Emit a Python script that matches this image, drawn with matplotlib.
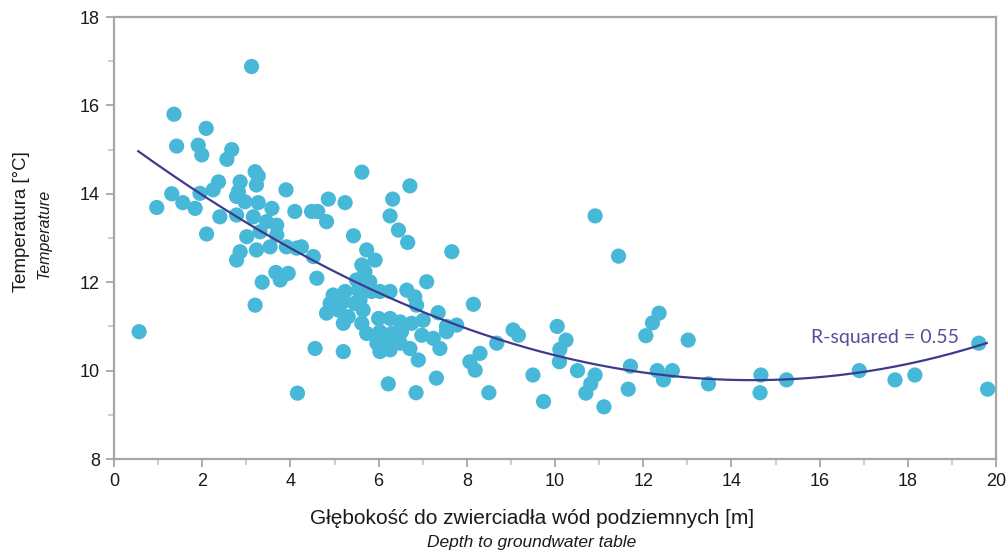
import numpy as np
import matplotlib
matplotlib.use("Agg")
import matplotlib.pyplot as plt
from matplotlib.ticker import MultipleLocator

# Depth to groundwater table [m]
depth = [
    0.57, 0.97, 1.36, 1.42, 1.31, 1.56, 1.84, 1.95, 1.91, 1.99,
    2.09, 2.10, 2.25, 2.37, 2.40, 2.56, 2.67, 2.78, 2.78, 2.86,
    2.82, 2.97, 2.78, 2.86, 3.01, 3.12, 3.20, 3.27, 3.23, 3.27,
    3.16, 3.31, 3.23, 3.20, 3.36, 3.46, 3.58, 3.54, 3.69, 3.69,
    3.67, 3.95, 3.77, 3.91, 3.90, 4.14, 4.10, 4.25, 4.16, 4.48,
    4.62, 4.52, 4.60, 4.56, 4.82, 4.86, 4.82, 4.90, 4.97, 5.09,
    5.20, 5.20, 5.20, 5.24, 5.24, 5.43, 5.46, 5.50, 5.54, 5.62,
    5.62, 5.62, 5.65, 5.69, 5.73, 5.73, 5.80, 5.92, 5.96, 6.00,
    6.03, 6.03, 6.03, 6.22, 6.22, 6.26, 6.26, 6.26, 6.26, 6.30,
    6.32, 6.45, 6.49, 6.49, 6.52, 6.64, 6.66, 6.71, 6.71, 6.75,
    6.82, 6.86, 6.90, 6.85, 6.98, 7.01, 7.09, 7.24, 7.31, 7.35,
    7.39, 7.54, 7.54, 7.66, 7.77, 8.07, 8.19, 8.15, 8.30, 8.50,
    8.68, 9.05, 9.17, 9.50, 9.74, 10.05, 10.25, 10.11, 10.10, 10.51,
    10.91, 10.91, 10.81, 10.70, 11.11, 11.44, 11.71, 11.66, 12.06, 12.21,
    12.36, 12.32, 12.46, 12.66, 13.02, 13.48, 14.67, 14.65, 15.25, 16.90,
    17.71, 18.16, 19.61, 19.81, 5.31, 5.58, 5.84,
]

# Temperature [°C]
temperature = [
    10.88, 13.69, 15.80, 15.08, 14.00, 13.80, 13.67, 14.01, 15.10, 14.88,
    15.48, 13.09, 14.09, 14.27, 13.48, 14.78, 15.00, 13.94, 13.52, 14.27,
    14.05, 13.82, 12.50, 12.69, 13.03, 16.88, 14.50, 14.40, 14.20, 13.80,
    13.48, 13.14, 12.73, 11.48, 12.00, 13.37, 13.67, 12.80, 13.29, 13.07,
    12.22, 12.20, 12.05, 12.80, 14.09, 12.77, 13.60, 12.80, 9.49, 13.60,
    13.60, 12.58, 12.09, 10.50, 13.37, 13.88, 11.30, 11.52, 11.71, 11.37,
    11.56, 11.07, 10.43, 11.79, 13.80, 13.05, 11.52, 12.05, 11.82, 14.49,
    12.39, 11.07, 11.37, 12.24, 12.73, 10.84, 12.01, 12.50, 10.62, 11.18,
    11.79, 10.88, 10.43, 10.65, 9.70, 11.79, 11.18, 10.47, 13.50, 10.84,
    13.88, 13.18, 11.10, 10.62, 10.88, 11.82, 12.90, 14.18, 10.50, 11.07,
    11.67, 11.48, 10.24, 9.50, 10.80, 11.14, 12.01, 10.73, 9.83, 11.31,
    10.50, 11.00, 10.88, 12.69, 11.03, 10.20, 10.01, 11.50, 10.39, 9.50,
    10.62, 10.92, 10.80, 9.90, 9.30, 11.00, 10.69, 10.48, 10.20, 10.00,
    13.50, 9.90, 9.70, 9.49, 9.18, 12.59, 10.10, 9.58, 10.79, 11.08,
    11.30, 10.00, 9.79, 10.00, 10.69, 9.70, 9.90, 9.50, 9.79, 10.00,
    9.79, 9.90, 10.62, 9.58, 11.22, 11.60, 11.79,
]

# Trend curve readings (x, y) along the fitted line
fit_x = [0.57, 3.23, 5.35, 8.0, 8.75, 11.78, 14.05, 19.79]
fit_y = [14.93, 13.26, 12.05, 10.99, 10.62, 10.01, 9.80, 10.62]
r2_label = "R-squared = 0.55"

x_ticks = [0, 2, 4, 6, 8, 10, 12, 14, 16, 18, 20]
y_ticks = [8, 10, 12, 14, 16, 18]

plt.rcParams['font.family'] = ['Liberation Sans', 'DejaVu Sans']

W, H = 1007, 552
fig = plt.figure(figsize=(W / 100, H / 100), dpi=100)
ax = fig.add_axes([114 / W, 1 - 459 / H, (996 - 114) / W, (459 - 17) / H])

ax.scatter(depth, temperature, s=120, color='#48b8d8', edgecolors='none', zorder=3)

coef = np.polyfit(fit_x, fit_y, 3)
xc = np.linspace(min(fit_x) - 0.02, max(fit_x), 300)
ax.plot(xc, np.polyval(coef, xc), color='#3e3a8c', lw=1.6, zorder=4)

fig.text(885 / W, 1 - 338 / H, r2_label, ha='center', va='center',
         fontsize=14, color='#574d98', family=['Lato', 'DejaVu Sans'], zorder=5)

ax.set_xlim(0, 20)
ax.set_ylim(8, 18)
ax.set_xticks(x_ticks)
ax.set_yticks(y_ticks)
ax.xaxis.set_minor_locator(MultipleLocator(1))
ax.yaxis.set_minor_locator(MultipleLocator(1))

for sp in ax.spines.values():
    sp.set_color('#a6a6a6')
    sp.set_linewidth(1.6)

ax.tick_params(axis='both', which='major', direction='out', length=6, width=1.3,
               color='#a6a6a6', labelsize=13, labelcolor='#1a1a1a', pad=4)
ax.tick_params(axis='both', which='minor', direction='out', length=4, width=1.1,
               color='#c0c0c0')

fig.text(532 / W, 1 - 518 / H, "Głębokość do zwierciadła wód podziemnych [m]",
         ha='center', va='center', fontsize=15, color='#1a1a1a')
fig.text(532 / W, 1 - 543 / H, "Depth to groundwater table",
         ha='center', va='center', fontsize=12.5, style='italic', color='#1a1a1a')
fig.text(22 / W, 1 - 222 / H, "Temperatura [°C]", rotation=90,
         ha='center', va='center', fontsize=13.4, color='#1a1a1a')
fig.text(44 / W, 1 - 234 / H, "Temperature", rotation=90,
         ha='center', va='center', fontsize=11.5, style='italic', color='#1a1a1a')

fig.savefig("out.png", dpi=100)
